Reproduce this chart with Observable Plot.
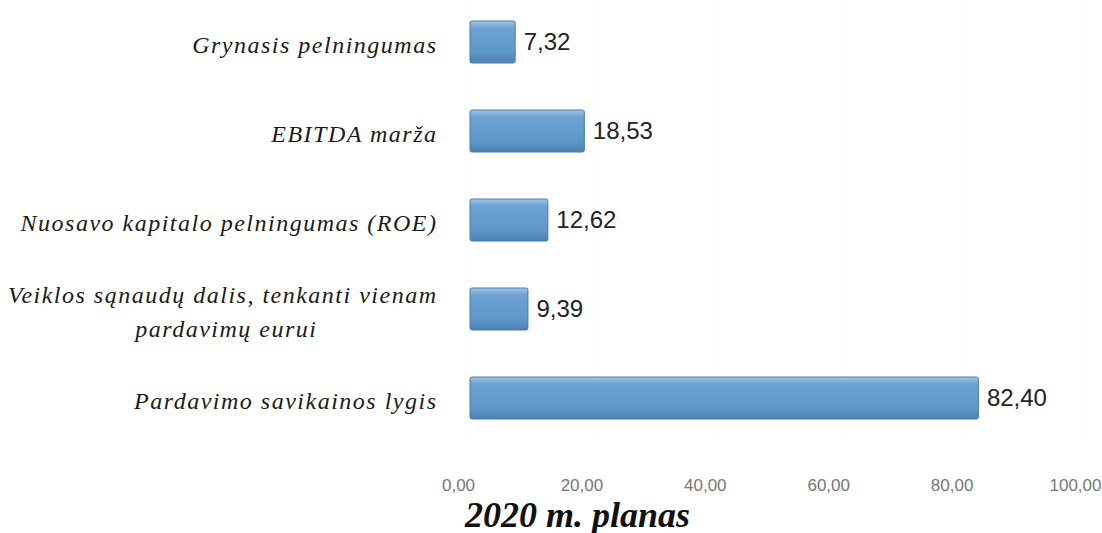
<!DOCTYPE html>
<html>
<head>
<meta charset="utf-8">
<script src="https://cdn.jsdelivr.net/npm/d3@7"></script>
<script src="https://cdn.jsdelivr.net/npm/@observablehq/plot@0.6"></script>
<style>
  body { margin: 0; background: #fff; }
  #chart { width: 1102px; height: 497px; }
  #title { font-family: "Liberation Serif", "Times New Roman", serif; font-style: italic; font-weight: bold; font-size: 36px; color: #111; padding-left: 465px; line-height: 36px; margin-top: 0px; white-space: nowrap; }
  g[aria-label="y-axis tick label"] text { letter-spacing: 1.5px; }
</style>
</head>
<body>
<div id="chart"></div>
<div id="title">2020 m. planas</div>
<script>
const NBSP = "\u00A0";
const categories = [
  "Grynasis pelningumas",
  "EBITDA marža",
  "Nuosavo kapitalo pelningumas (ROE)",
  "Veiklos sąnaudų dalis, tenkanti vienam\npardavimų eurui" + NBSP.repeat(16),
  "Pardavimo savikainos lygis"
];
const values = [7.32, 18.53, 12.62, 9.39, 82.40];
const xTicks = [0, 20, 40, 60, 80, 100];

const data = categories.map((c, i) => ({category: c, value: values[i]}));
const fmt = v => v.toLocaleString("lt-LT", {minimumFractionDigits: 2, maximumFractionDigits: 2});

const plot = Plot.plot({
  width: 1102,
  height: 497,
  marginLeft: 470,
  marginRight: 15,
  marginTop: 0,
  marginBottom: 57,
  style: {background: "#fff", overflow: "visible"},
  x: {domain: [0, 100], ticks: xTicks, tickFormat: fmt, label: null},
  y: {domain: categories, paddingInner: 0.53, paddingOuter: 0.236, label: null},
  marks: [
    Plot.ruleX(xTicks, {stroke: "#dddddd", strokeDasharray: "1,7", strokeOpacity: 0.5}),
    Plot.barX(data, {x: "value", y: "category", fill: "url(#barGrad)", stroke: "#4a7aa8", strokeWidth: 1, rx: 2}),
    Plot.text(data, {x: "value", y: "category", text: d => fmt(d.value), dx: 8, textAnchor: "start",
      fontSize: 24, fill: "#222", fontFamily: "'Liberation Sans', Arial, sans-serif"}),
    Plot.axisX({ticks: xTicks, tickFormat: fmt, tickSize: 0, tickPadding: 38, dx: -12, label: null,
      fontSize: 17, fill: "#777", fontFamily: "'Liberation Sans', Arial, sans-serif"}),
    Plot.axisY({tickSize: 0, tickPadding: 33, fontSize: 24, fontStyle: "italic", label: null,
      fill: "#1a1a1a", fontFamily: "'Liberation Serif', 'Times New Roman', serif", lineHeight: 1.4})
  ]
});

d3.select(plot).insert("defs", ":first-child").html(`
  <linearGradient id="barGrad" x1="0" y1="0" x2="0" y2="1">
    <stop offset="0" stop-color="#a3c6e6"/>
    <stop offset="0.16" stop-color="#6ea4d4"/>
    <stop offset="0.75" stop-color="#5c96ca"/>
    <stop offset="1" stop-color="#4c80b3"/>
  </linearGradient>`);

document.getElementById("chart").appendChild(plot);
</script>
</body>
</html>
